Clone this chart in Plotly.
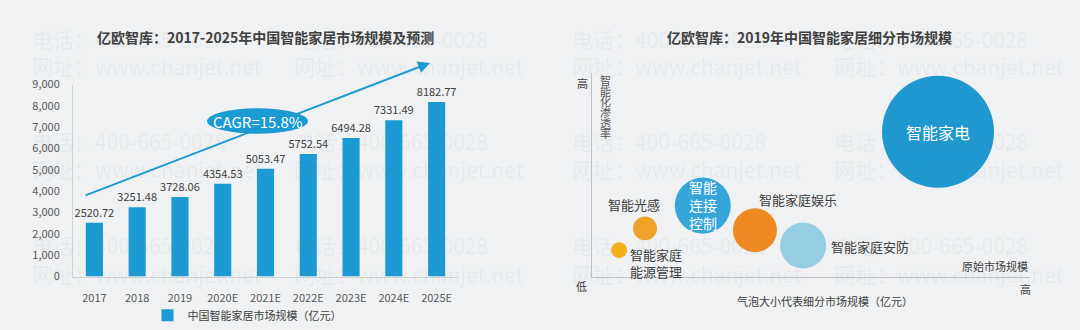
import plotly.graph_objects as go

# ---------------- data ----------------
years = ["2017", "2018", "2019", "2020E", "2021E", "2022E", "2023E", "2024E", "2025E"]
market_size = [2520.72, 3251.48, 3728.06, 4354.53, 5053.47, 5752.54, 6494.28, 7331.49, 8182.77]
bar_series_name = "中国智能家居市场规模（亿元）"
cagr_text = "CAGR=15.8%"

segments = ["智能家电", "智能连接控制", "智能家庭娱乐", "智能家庭安防", "智能光感", "智能家庭能源管理"]
segment_scale = [79.0, 25.3, 37.2, 48.2, 12.1, 6.2]          # 原始市场规模 (relative)
segment_penetration = [71.2, 34.9, 22.8, 15.3, 23.7, 13.0]   # 智能化渗透率 (relative)
segment_market = [2274, 569, 351, 384, 104, 46]              # bubble size (亿元, estimated)

title_left = "亿欧智库：2017-2025年中国智能家居市场规模及预测"
title_right = "亿欧智库：2019年中国智能家居细分市场规模"
y_title_right = "智能化渗透率"
x_title_right = "气泡大小代表细分市场规模（亿元）"
x_label_right = "原始市场规模"

# ---------------- styles ----------------
W, H = 1080, 330
BG = "#eff1f2"
BLUE = "#1c9ad3"
TXT = "#404040"
TICK = "#595959"
FONT = "Noto Sans CJK SC, Noto Sans, sans-serif"
bubble_colors = ["#1f98cf", "#36a5da", "#ef8a22", "#97cde2", "#f0a228", "#f2b01f"]
MAX_DIAM = 112
# label style per bubble: (text, xshift px, yshift px, xanchor, color, size)
bubble_labels = [
    ("智能家电", 0, 0, "center", "white", 16),
    ("智能<br>连接<br>控制", 0, 1, "center", "white", 14),
    ("智能家庭娱乐", 43, 31, "center", TXT, 13),
    ("智能家庭安防", 26, -1, "left", TXT, 13),
    ("智能光感", -11, 24, "center", TXT, 13),
    ("智能家庭<br>能源管理", 9, -13, "left", TXT, 13),
]

def px_x(p):
    return p / W

def px_y(p):
    return (H - p) / H

def note(x, y, text, size=11, color=TXT, xanchor="center", bold=False, family=FONT):
    return dict(x=px_x(x), y=px_y(y), xref="paper", yref="paper",
                text=f"<b>{text}</b>" if bold else text, showarrow=False,
                xanchor=xanchor, yanchor="middle", font=dict(size=size, color=color, family=family))

fig = go.Figure()

fig.add_trace(go.Bar(
    x=years, y=market_size, name=bar_series_name,
    marker=dict(color=BLUE, line=dict(width=0)), width=0.4,
    text=[f"{v:.2f}" for v in market_size], textposition="outside", constraintext="none",
    textfont=dict(size=11, color=TXT, family=FONT), cliponaxis=False,
    xaxis="x", yaxis="y", showlegend=True,
))

sizeref = 2.0 * max(segment_market) / (MAX_DIAM ** 2)
fig.add_trace(go.Scatter(
    x=segment_scale, y=segment_penetration, mode="markers",
    marker=dict(size=segment_market, sizemode="area", sizeref=sizeref,
                color=bubble_colors, opacity=1, line=dict(width=0)),
    xaxis="x2", yaxis="y2", showlegend=False, cliponaxis=False,
))

annotations = []

# watermark (drawn first, faint)
wm_color = "rgba(110,120,130,0.07)"
for cx in (30, 292, 570, 832):
    for ry, txt in ((32, "电话：400-665-0028"), (60, "网址：www.chanjet.net"),
                    (140, "电话：400-665-0028"), (169, "网址：www.chanjet.net"),
                    (250, "电话：400-665-0028"), (280, "网址：www.chanjet.net")):
        annotations.append(note(cx, ry, txt, size=21, color=wm_color, xanchor="left"))

for i, (txt, xs, ys, xa, col, sz) in enumerate(bubble_labels):
    annotations.append(dict(
        x=segment_scale[i], y=segment_penetration[i], xref="x2", yref="y2",
        text=txt, showarrow=False, xshift=xs, yshift=ys, xanchor=xa, yanchor="middle",
        font=dict(size=sz, color=col, family=FONT),
    ))

# titles
annotations.append(note(265, 30, title_left, size=14, bold=True))
annotations.append(note(809, 30, title_right, size=14, bold=True))

# trend arrow + CAGR
annotations.append(dict(x=px_x(430), y=px_y(57), xref="paper", yref="paper", ax=84 - 430, ay=190 - 57,
                        axref="pixel", ayref="pixel", text="", showarrow=True, arrowhead=2, arrowsize=1.2,
                        arrowwidth=2, arrowcolor=BLUE))

shapes = [dict(type="circle", xref="paper", yref="paper", x0=px_x(207), x1=px_x(308), y0=px_y(132), y1=px_y(105),
               fillcolor=BLUE, line=dict(width=0), layer="above")]
annotations.append(note(257.5, 118.5, cagr_text, size=15, color="white"))

# right axis decorations
annotations += [
    note(582, 78, "高"),
    note(581, 293, "低"),
    note(1025, 296, "高"),
    note(1030, 272, x_label_right, xanchor="right"),
    note(825, 309, x_title_right),
]
for k, ch in enumerate(y_title_right):
    annotations.append(note(605, 75 + k * 11.3, ch, size=11, color=TICK))

fig.update_layout(
    width=W, height=H, autosize=False,
    margin=dict(l=0, r=0, t=0, b=0),
    paper_bgcolor=BG, plot_bgcolor="rgba(0,0,0,0)",
    font=dict(family=FONT, color=TXT),
    xaxis=dict(domain=[px_x(73), px_x(458)], anchor="y", type="category", range=[-0.5, 8.5],
               showline=True, linecolor="#d0d3d6", linewidth=1, ticks="", showgrid=False,
               tickfont=dict(size=11, color=TICK, family=FONT), ticklabelstandoff=11),
    yaxis=dict(domain=[px_y(283), px_y(80)], anchor="x", range=[0, 9000], dtick=1000, tickformat=",",
               showline=True, linecolor="#d0d3d6", linewidth=1, ticks="", showgrid=False, zeroline=False,
               tickfont=dict(size=11, color=TICK, family=FONT), ticklabelstandoff=10),
    xaxis2=dict(domain=[px_x(592), px_x(1030)], anchor="y2", range=[0, 100], showline=True,
                linecolor="#bfc2c5", showticklabels=False, showgrid=False, zeroline=False, ticks=""),
    yaxis2=dict(domain=[px_y(283), px_y(68)], anchor="x2", range=[0, 100], showline=True,
                linecolor="#bfc2c5", showticklabels=False, showgrid=False, zeroline=False, ticks=""),
    legend=dict(orientation="h", x=px_x(247), xanchor="center", y=px_y(324), yanchor="middle",
                bgcolor="rgba(0,0,0,0)", font=dict(size=11, color=TXT, family=FONT)),
    annotations=annotations, shapes=shapes,
)

fig.write_html("out.html")
